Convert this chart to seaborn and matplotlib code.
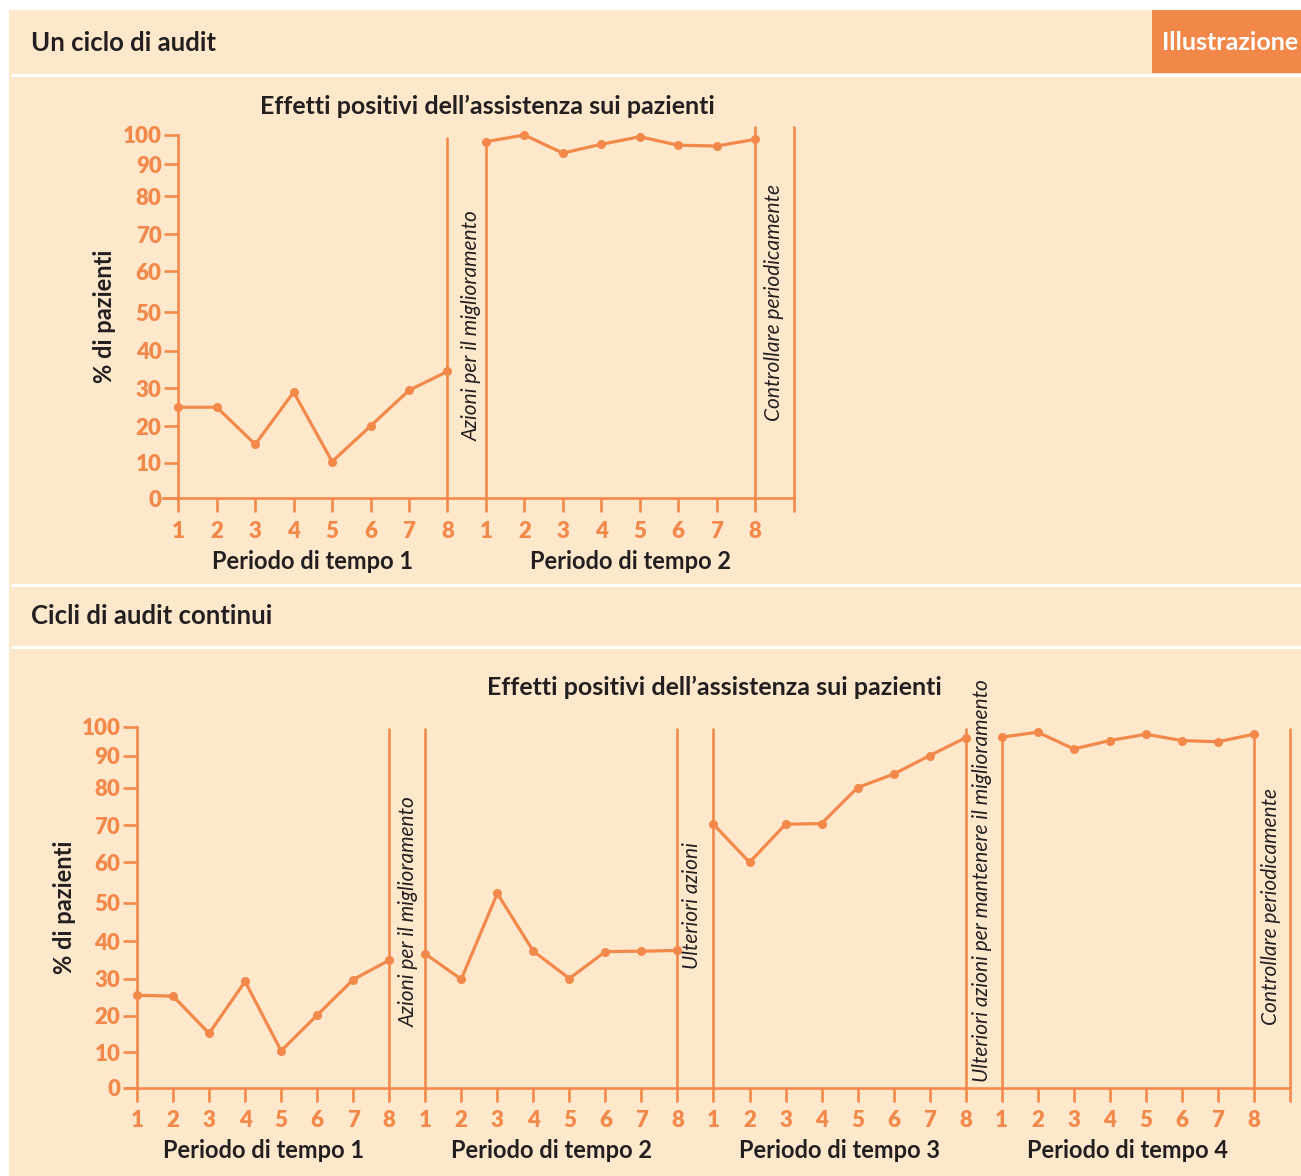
import numpy as np
import pandas as pd
import matplotlib
matplotlib.use("Agg")
import matplotlib.pyplot as plt
import seaborn as sns
from matplotlib.patches import Rectangle
from matplotlib.lines import Line2D

# ---------------- data ----------------
step_labels = ["1", "2", "3", "4", "5", "6", "7", "8"]
y_ticks = [0, 10, 20, 30, 40, 50, 60, 70, 80, 90, 100]
# drawn height (px) of each gridline above the zero line on the hand-ruled axis
y_tick_heights = [0, 35.5, 72, 109.5, 147, 185.5, 226, 263, 301, 333, 362]

top_periods = ["Periodo di tempo 1", "Periodo di tempo 2"]
top_p1 = [25, 25, 15, 29, 10.3, 20, 29.5, 34.5]
top_p2 = [97.7, 100, 93.8, 96.8, 99.4, 96.5, 96.2, 98.5]
top_notes = ["Azioni per il miglioramento", "Controllare periodicamente"]

bottom_periods = ["Periodo di tempo 1", "Periodo di tempo 2",
                  "Periodo di tempo 3", "Periodo di tempo 4"]
bot_p1 = [25.5, 25.3, 15.2, 29.2, 10.4, 20.2, 29.7, 34.9]
bot_p2 = [36.6, 29.8, 52.3, 37.3, 30.0, 37.2, 37.3, 37.5]
bot_p3 = [70.3, 60.0, 70.3, 70.5, 80.0, 84.2, 90.0, 96.2]
bot_p4 = [96.4, 98.1, 92.3, 95.2, 97.4, 95.2, 94.8, 97.4]
bottom_notes = ["Azioni per il miglioramento", "Ulteriori azioni",
                "Ulteriori azioni per mantenere il miglioramento",
                "Controllare periodicamente"]

header_top = "Un ciclo di audit"
header_bottom = "Cicli di audit continui"
tag_text = "Illustrazione"
chart_title = "Effetti positivi dell\u2019assistenza sui pazienti"
y_label = "% di pazienti"

# ---------------- style ----------------
W, H = 1301, 1176
BEIGE = "#FEE8CC"
ORANGE = "#F2894B"
TAG = "#F2874A"
INK = "#231F20"

sns.set_theme(style="white")
plt.rcParams["font.family"] = ["Lato", "DejaVu Sans"]

fig = plt.figure(figsize=(W / 100, H / 100), dpi=100)
fig.patch.set_facecolor("white")


def fx(x):
    return x / W


def fy(y):
    return 1 - y / H


# panel background, header separators and tag
fig.add_artist(Rectangle((fx(9), 0), 1 - fx(9), fy(10), transform=fig.transFigure,
                         facecolor=BEIGE, edgecolor="none", zorder=0))
for yy in (74.5, 585.3, 647.3):
    fig.add_artist(Line2D([fx(12), 1], [fy(yy), fy(yy)], transform=fig.transFigure,
                          color="white", lw=2.2, zorder=1))
fig.add_artist(Rectangle((fx(1152), fy(73)), 1 - fx(1152), fy(10) - fy(73),
                         transform=fig.transFigure, facecolor=TAG, edgecolor="none", zorder=1))
fig.text(fx(1230), fy(43), tag_text, color="white", fontsize=18, fontweight="bold",
         ha="center", va="center")
fig.text(fx(31), fy(43), header_top, color=INK, fontsize=18.5, fontweight="bold",
         ha="left", va="center")
fig.text(fx(31), fy(616), header_bottom, color=INK, fontsize=18.5, fontweight="bold",
         ha="left", va="center")

# piecewise-linear vertical scale following the ruled axis
_v = np.r_[-1000.0, y_ticks, 1000.0]
_h = np.r_[-3550.0, y_tick_heights, y_tick_heights[-1] + 900 * 2.9]


def fwd(v):
    return np.interp(v, _v, _h)


def inv(h):
    return np.interp(h, _h, _v)


def draw_chart(box, series, periods, notes, note_pos, label_centers, boundaries,
               xlim, ytop, title_xy, ylabel_xy):
    left, zero_y, step, k = box
    n = len(series)
    width = (xlim[1] - xlim[0]) * step
    height = k * fwd(ytop)
    ax = fig.add_axes([fx(left), fy(zero_y), width / W, height / H])
    ax.set_facecolor("none")

    df = pd.DataFrame({
        "idx": np.arange(8 * n),
        "value": np.concatenate(series),
        "period": np.repeat(periods, 8),
    })
    sns.lineplot(data=df, x="idx", y="value", units="period", estimator=None,
                 color=ORANGE, lw=2.3, marker="o", markersize=6.5, markeredgewidth=0,
                 ax=ax, clip_on=False, zorder=4)

    ax.set_yscale("function", functions=(fwd, inv))
    ax.set_xlim(*xlim)
    ax.set_ylim(0, ytop)

    # period boundaries
    for xi, top in boundaries:
        if top is None:
            top = df["value"].iloc[xi]
        ax.plot([xi, xi], [0, top], color=ORANGE, lw=1.9, zorder=3, clip_on=False)

    for s in ("top", "right"):
        ax.spines[s].set_visible(False)
    ax.spines["left"].set_position(("data", 0))
    ax.spines["left"].set_bounds(0, 100)
    for s in ("left", "bottom"):
        ax.spines[s].set_color(ORANGE)
        ax.spines[s].set_linewidth(1.9)

    ax.set_yticks(y_ticks)
    ax.set_yticklabels([str(t) for t in y_ticks], fontweight="heavy")
    ax.set_xticks(np.arange(8 * n + 1))
    ax.set_xticklabels(step_labels * n + [""], fontweight="heavy")
    ax.tick_params(axis="both", colors=ORANGE, width=1.9, length=10, labelsize=16,
                   direction="out", bottom=True, left=True)
    ax.tick_params(axis="y", pad=2)
    ax.tick_params(axis="x", pad=6)
    ax.set_xlabel("")
    ax.set_ylabel("")
    ax.minorticks_off()

    for name, cx in zip(periods, label_centers):
        ax.annotate(name, xy=(cx, 0), xytext=(0, -63 * 0.72), textcoords="offset points",
                    ha="center", va="center", fontsize=17, fontweight="bold", color=INK,
                    annotation_clip=False)

    for text, (nx, ny) in zip(notes, note_pos):
        ax.text(nx, ny, text, rotation=90, ha="center", va="bottom", fontsize=15,
                style="italic", fontweight="normal", color=INK)

    fig.text(fx(title_xy[0]), fy(title_xy[1]), chart_title, ha="center", va="center",
             fontsize=18, fontweight="bold", color=INK)
    fig.text(fx(ylabel_xy[0]), fy(ylabel_xy[1]), y_label, ha="center", va="center",
             rotation=90, fontsize=17, fontweight="bold", color=INK)
    return ax


# single audit cycle
draw_chart(box=(178.3 - 0.4 * 38.45, 498.3, 38.45, 363.3 / 362),
           series=[top_p1, top_p2], periods=top_periods, notes=top_notes,
           note_pos=[(7.62, 16), (15.5, 21.3)], label_centers=[3.5, 11.77],
           boundaries=[(7, 99.1), (8, None), (15, 102.8), (16, 102.8)],
           xlim=(-0.4, 16), ytop=104, title_xy=(487, 106), ylabel_xy=(104, 316))

# continuous audit cycles
draw_chart(box=(137 - 0.3 * 36.03, 1087.7, 36.03, 361 / 362),
           series=[bot_p1, bot_p2, bot_p3, bot_p4], periods=bottom_periods,
           notes=bottom_notes,
           note_pos=[(7.55, 17), (15.4, 32.5), (23.46, 1.6), (31.47, 17.5)],
           label_centers=[3.5, 11.5, 19.5, 27.5],
           boundaries=[(7, 99.3), (8, 99.3), (15, 99.3), (16, 99.3), (23, 99.3),
                       (24, None), (31, None), (32, 99.3)],
           xlim=(-0.3, 32), ytop=104, title_xy=(714, 687), ylabel_xy=(65, 907))

fig.savefig("out.png", dpi=100, facecolor=fig.get_facecolor())
